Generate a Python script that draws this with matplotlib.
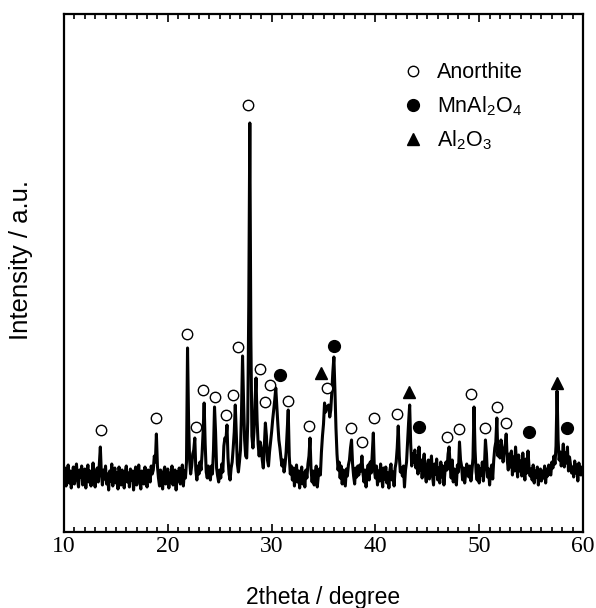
import matplotlib
matplotlib.use("Agg")
import matplotlib.pyplot as plt
import numpy as np

plt.rcParams['font.family'] = ['Liberation Sans', 'DejaVu Sans']
plt.rcParams['mathtext.fontset'] = 'custom'
plt.rcParams['mathtext.rm'] = 'Liberation Sans'

# XRD scan, 10-60 deg, 0.1 deg step (one row per degree)
intensity = [
    55, 64, 46, 58, 67, 49, 61, 44, 57, 65,      # 10
    48, 60, 68, 52, 45, 62, 55, 66, 47, 59,      # 11
    63, 44, 58, 67, 50, 61, 46, 56, 69, 52,      # 12
    45, 60, 64, 50, 67, 85, 58, 47, 62, 53,      # 13
    66, 48, 58, 42, 61, 51, 68, 46, 57, 64,      # 14
    49, 59, 43, 65, 54, 47, 62, 56, 44, 60,      # 15
    66, 50, 59, 45, 63, 52, 61, 42, 57, 65,      # 16
    47, 56, 67, 51, 43, 61, 57, 48, 65, 53,      # 17
    45, 62, 56, 50, 66, 58, 62, 76, 70, 98,      # 18
    66, 54, 46, 62, 51, 43, 60, 65, 48, 57,      # 19
    63, 44, 59, 50, 66, 47, 56, 62, 42, 60,      # 20
    51, 64, 48, 57, 67, 46, 61, 54, 70, 184,     # 21
    112, 72, 58, 66, 78, 82, 94, 62, 52, 66,     # 22
    58, 70, 62, 78, 100, 129, 88, 60, 54, 66,    # 23
    60, 52, 66, 58, 82, 125, 100, 64, 56, 50,    # 24
    62, 54, 68, 60, 86, 94, 92, 107, 74, 58,     # 25
    52, 64, 70, 84, 100, 127, 96, 68, 60, 70,    # 26
    82, 120, 176, 130, 92, 76, 74, 110, 227, 409,  # 27
    196, 96, 84, 100, 130, 154, 112, 88, 76, 90,   # 28
    84, 72, 64, 86, 109, 96, 72, 66, 80, 90,     # 29
    100, 112, 122, 132, 144, 126, 108, 92, 84, 74,  # 30
    66, 72, 60, 68, 80, 100, 122, 76, 58, 66,    # 31
    52, 64, 46, 59, 67, 50, 61, 44, 57, 65,      # 32
    48, 59, 45, 62, 54, 68, 76, 94, 62, 50,      # 33
    61, 47, 58, 66, 45, 56, 63, 57, 80, 96,      # 34
    108, 129, 120, 124, 126, 127, 115, 122, 140, 160,  # 35
    175, 142, 104, 78, 62, 70, 54, 66, 48, 62,   # 36
    54, 46, 63, 56, 67, 72, 84, 92, 68, 56,      # 37
    48, 64, 55, 66, 57, 67, 61, 76, 59, 50,      # 38
    62, 45, 59, 67, 52, 70, 59, 80, 99, 62,      # 39
    54, 66, 47, 61, 51, 68, 57, 45, 64, 53,      # 40
    65, 49, 59, 44, 62, 68, 52, 60, 46, 64,      # 41
    70, 84, 106, 76, 60, 64, 56, 66, 45, 62,     # 42
    70, 90, 110, 127, 88, 66, 78, 70, 82, 64,    # 43
    76, 58, 85, 62, 72, 54, 70, 78, 58, 50,      # 44
    66, 72, 53, 63, 76, 56, 47, 68, 58, 73,      # 45
    52, 64, 49, 70, 55, 66, 47, 60, 70, 62,      # 46
    78, 85, 66, 54, 72, 50, 63, 57, 47, 67,      # 47
    60, 90, 72, 66, 52, 64, 49, 59, 68, 58,      # 48
    55, 66, 51, 61, 74, 125, 82, 60, 52, 67,     # 49
    49, 63, 57, 70, 51, 65, 92, 78, 55, 63,      # 50
    47, 61, 67, 53, 72, 84, 90, 114, 76, 86,     # 51
    74, 92, 84, 70, 80, 86, 98, 72, 62, 78,      # 52
    65, 81, 57, 75, 61, 85, 69, 55, 77, 61,      # 53
    71, 56, 79, 63, 52, 73, 59, 81, 65, 56,      # 54
    63, 52, 67, 49, 61, 55, 65, 47, 59, 63,      # 55
    51, 61, 54, 66, 49, 63, 56, 67, 59, 57,      # 56
    70, 64, 76, 68, 86, 141, 92, 72, 80, 66,     # 57
    74, 88, 65, 79, 69, 85, 61, 75, 67, 59,      # 58
    65, 55, 71, 59, 67, 51, 69, 61, 57, 65,      # 59
    60,                                          # 60
]
two_theta = np.linspace(10, 60, len(intensity))

# phase markers
anorthite_x = [13.56, 18.86, 21.85, 22.72, 23.39, 24.55, 25.6, 26.28, 26.76, 27.73,
               28.88, 29.36, 29.85, 31.58, 33.6, 35.34, 37.65, 38.71, 39.86, 42.08,
               46.9, 48.05, 49.2, 50.56, 51.7, 52.58]
anorthite_y = [102, 114, 198, 105, 142, 135, 117, 137, 185, 427,
               163, 130, 147, 131, 106, 144, 104, 90, 114, 118,
               95, 103, 138, 104, 125, 109]
spinel_x = [30.81, 36.01, 44.2, 54.8, 58.46]
spinel_y = [157, 186, 105, 100, 104]
alumina_x = [34.76, 43.24, 57.5]
alumina_y = [159, 140, 149]

fig = plt.figure(figsize=(5.96, 6.08), dpi=100)
ax = fig.add_axes([0.1074, 0.125, 0.8708, 0.852])

ax.plot(two_theta, intensity, color='black', lw=2.2)
ax.plot(anorthite_x, anorthite_y, 'o', ms=7.5, mfc='white', mec='black', mew=1.0,
        ls='none', label='Anorthite')
ax.plot(spinel_x, spinel_y, 'o', ms=8.5, color='black', ls='none',
        label=r'MnAl$\mathregular{_2}$O$\mathregular{_4}$')
ax.plot(alumina_x, alumina_y, '^', ms=8.5, color='black', ls='none',
        label=r'Al$\mathregular{_2}$O$\mathregular{_3}$')

ax.set_xlim(10, 60)
ax.set_ylim(0, 518)
ax.set_xticks(np.arange(10, 61, 10))
ax.set_xticks(np.arange(10, 61, 1), minor=True)
ax.set_yticks([])
ax.tick_params(axis='x', which='both', direction='in', top=True, width=1.2,
               labelsize=17, pad=3)
ax.tick_params(axis='x', which='major', length=6)
ax.tick_params(axis='x', which='minor', length=3.5)
for lbl in ax.get_xticklabels():
    lbl.set_family('Liberation Serif')
for sp in ax.spines.values():
    sp.set_linewidth(1.6)

ax.set_xlabel('2theta / degree', fontsize=16.5)
ax.xaxis.set_label_coords(0.5, -0.104)
ax.set_ylabel('Intensity / a.u.', fontsize=18.5)
ax.yaxis.set_label_coords(-0.06, 0.525)

ax.legend(loc='upper left', bbox_to_anchor=(0.615, 0.944), frameon=False,
          fontsize=15.5, handlelength=1.0, handletextpad=0.6, labelspacing=0.5)

fig.savefig('out.png', dpi=100)
